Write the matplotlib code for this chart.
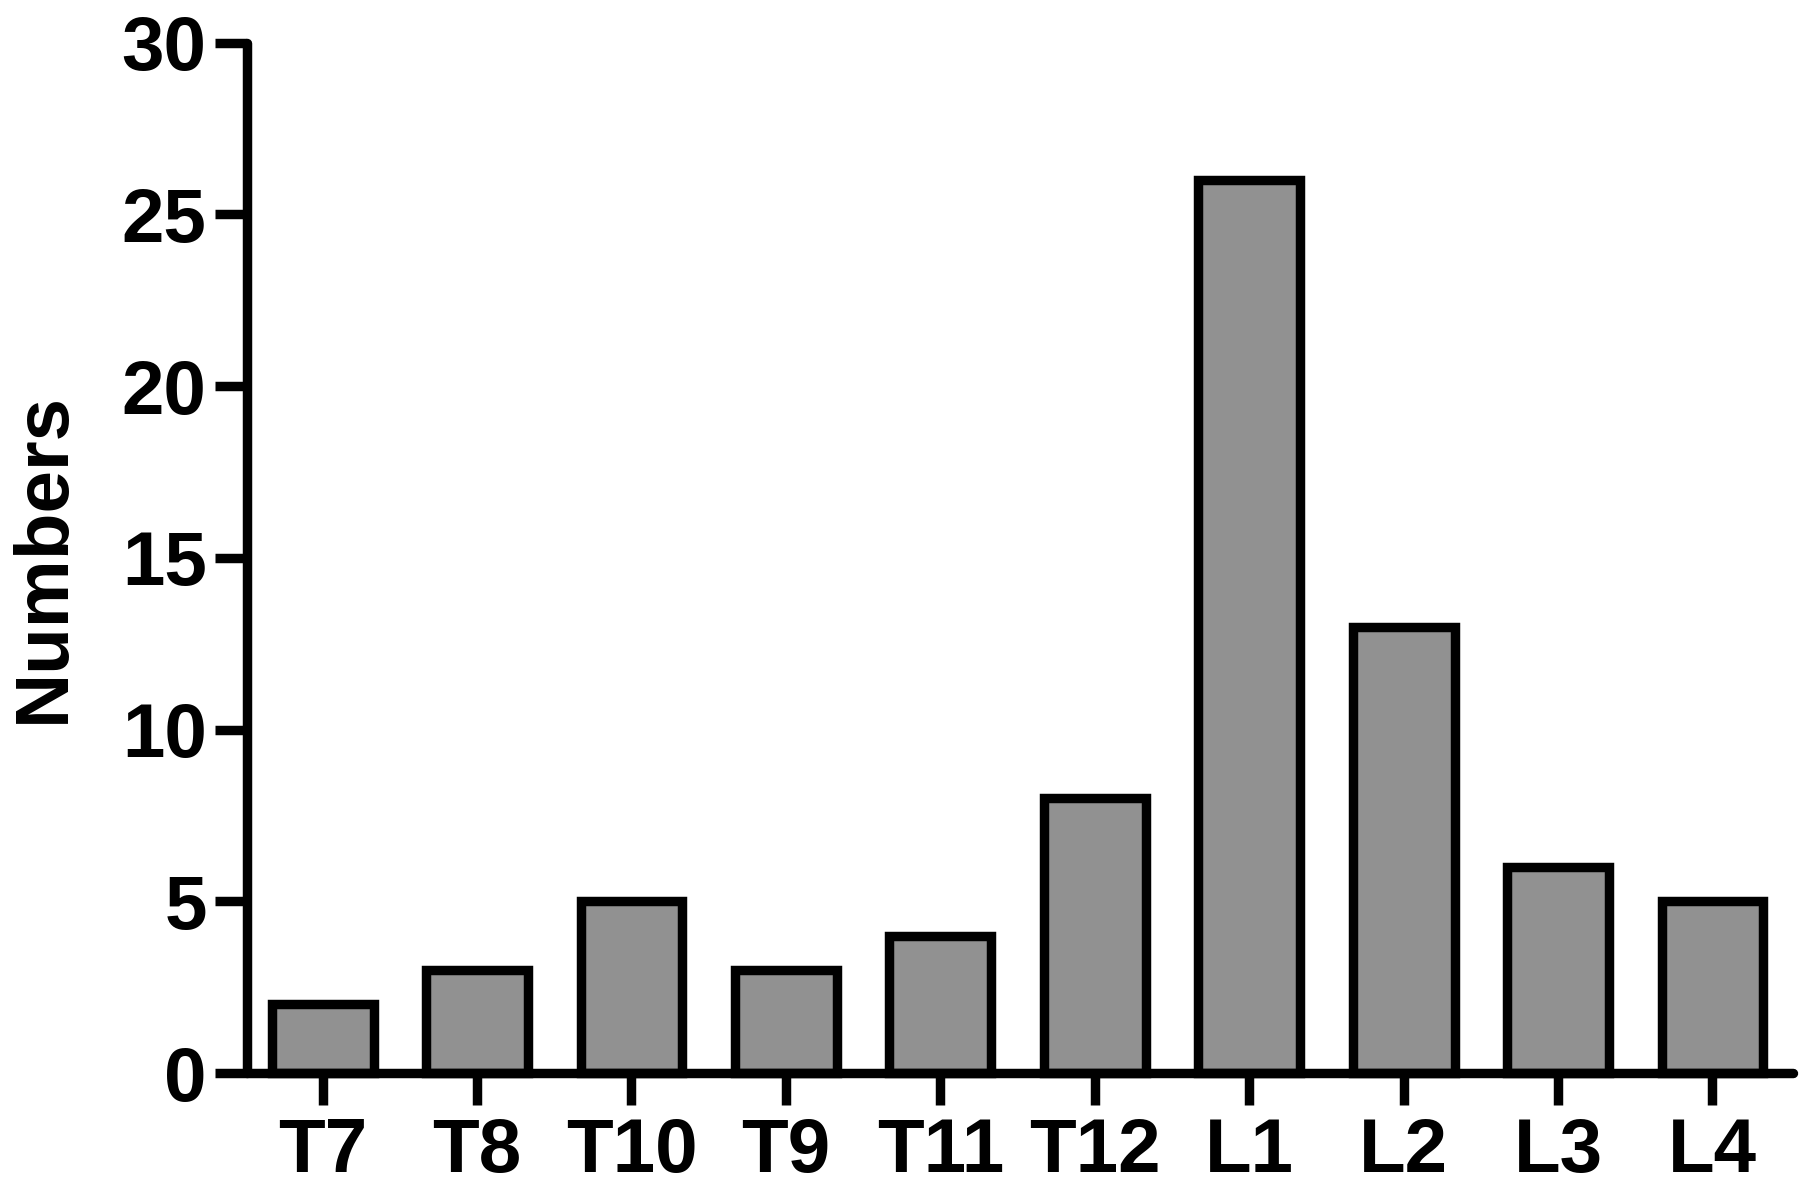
import matplotlib
matplotlib.use("Agg")
import matplotlib.pyplot as plt

categories = ["T7", "T8", "T10", "T9", "T11", "T12", "L1", "L2", "L3", "L4"]
values = [2, 3, 5, 3, 4, 8, 26, 13, 6, 5]
yticks = [0, 5, 10, 15, 20, 25, 30]

plt.rcParams['font.family'] = ['Liberation Sans', 'DejaVu Sans']
plt.rcParams['font.weight'] = 'bold'

LW = 6.8
FS = 55

fig = plt.figure(figsize=(18, 11.82), dpi=100)
ax = fig.add_axes([0.1372, 0.0922, 0.996 - 0.1372, 0.9639 - 0.0922])

x = list(range(len(categories)))
ax.bar(x, values, width=0.66, color="#919191", edgecolor="black",
       linewidth=LW, clip_on=False, zorder=2)

ax.set_xlim(-0.49, 9.52)
ax.set_ylim(0, 30)
ax.set_yticks(yticks)
ax.set_yticklabels([str(t) for t in yticks])
ax.set_xticks(x)
ax.set_xticklabels(categories)

for s in ["top", "right"]:
    ax.spines[s].set_visible(False)
for s in ["left", "bottom"]:
    ax.spines[s].set_linewidth(LW)
    ax.spines[s].set_capstyle('round')
    ax.spines[s].set_zorder(3)

ax.tick_params(axis='y', length=23, width=LW, pad=6, labelsize=FS, direction='out')
ax.tick_params(axis='x', length=23, width=LW, pad=9, labelsize=FS, direction='out')
for lab in ax.get_xticklabels() + ax.get_yticklabels():
    lab.set_fontweight('bold')

ax.set_ylabel("Numbers", fontsize=FS, fontweight='bold')
ax.yaxis.set_label_coords(-0.108, 0.5)

fig.savefig("out.png", dpi=100)
